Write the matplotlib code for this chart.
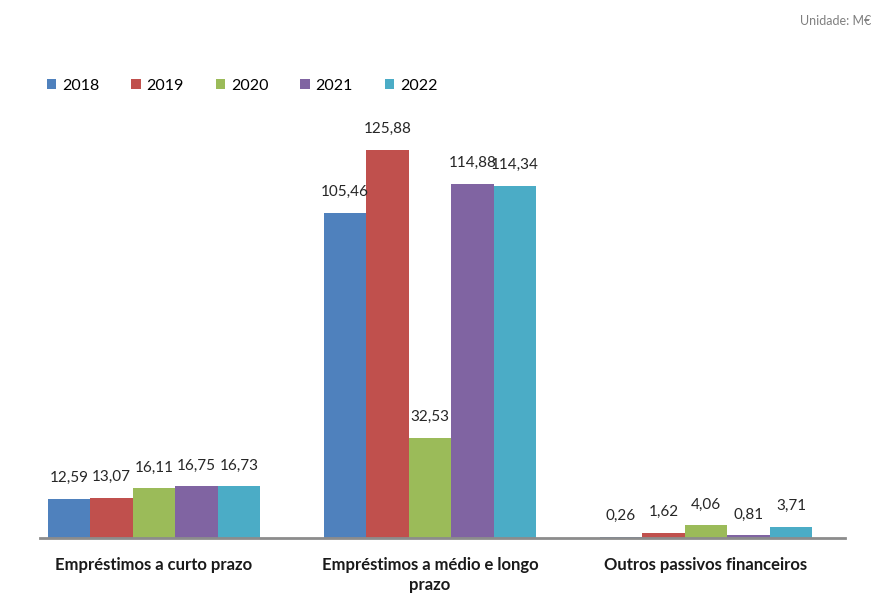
import numpy as np
import matplotlib.pyplot as plt

plt.rcParams['font.family'] = ['Lato', 'DejaVu Sans']

categorias = ["Empréstimos a curto prazo", "Empréstimos a médio e longo\nprazo", "Outros passivos financeiros"]
anos = ["2018", "2019", "2020", "2021", "2022"]
valores = [
    [12.59, 105.46, 0.26],
    [13.07, 125.88, 1.62],
    [16.11, 32.53, 4.06],
    [16.75, 114.88, 0.81],
    [16.73, 114.34, 3.71],
]
cores = ["#4F81BD", "#C0504D", "#9BBB59", "#8064A2", "#4BACC6"]

fig = plt.figure(figsize=(8.76, 5.94), dpi=100)
ax = fig.add_axes([0.0457, 0.0943, 0.919, 0.7265])

x = np.arange(len(categorias))
w = 0.154
for i in range(len(anos)):
    pos = x + (i - 2) * w
    barras = ax.bar(pos, valores[i], w, color=cores[i], label=anos[i])
    for b, v in zip(barras, valores[i]):
        ax.annotate(f"{v:.2f}".replace(".", ","), (b.get_x() + b.get_width() / 2, v),
                    xytext=(0, 10), textcoords="offset points",
                    ha="center", va="bottom", fontsize=11, color="#262626")

ax.set_xlim(-0.413, 2.504)
ax.set_ylim(0, 140)
for s in ["top", "right", "left"]:
    ax.spines[s].set_visible(False)
ax.spines["bottom"].set_color("#8c8c8c")
ax.spines["bottom"].set_linewidth(2)
ax.set_yticks([])
ax.set_xticks(x)
ax.set_xticklabels(categorias, fontsize=12, fontweight="bold", color="#1a1a1a",
                   linespacing=1.3)
ax.tick_params(axis="x", length=0, pad=14)

fig.legend(loc="upper left", bbox_to_anchor=(0.037, 0.892), ncol=5, frameon=False,
           fontsize=11.5, handlelength=0.6, handleheight=0.6, handletextpad=0.35,
           columnspacing=2.0)

fig.text(0.995, 0.975, "Unidade: M€", ha="right", va="top", fontsize=9, color="#7f7f7f")

fig.savefig("out.png", dpi=100)
